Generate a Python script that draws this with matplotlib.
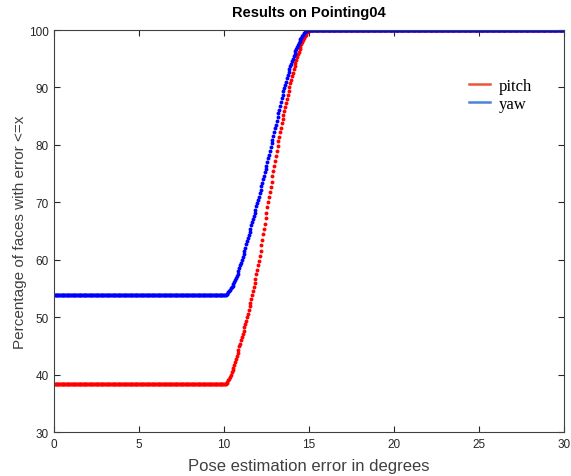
import numpy as np
import matplotlib
matplotlib.use("Agg")
import matplotlib.pyplot as plt
from matplotlib.lines import Line2D

# ---- data ----
step = 0.05
x_max = 30.0
rise_start = 10.0
pitch_plateau = 38.4
yaw_plateau = 53.9
top_value = 100.0

# values from x = 10.00 to 15.00, every 0.05 degree
pitch_rise = [
    38.4, 38.4, 38.4, 38.5, 38.7, 39.0, 39.3, 39.6, 40.0, 40.4,
    40.8, 41.2, 41.7, 42.2, 42.7, 43.2, 43.8, 44.3, 44.9, 45.4,
    46.0, 46.5, 47.1, 47.6, 48.2, 48.8, 49.4, 50.0, 50.6, 51.2,
    51.9, 52.5, 53.2, 53.9, 54.6, 55.3, 56.0, 56.7, 57.5, 58.2,
    59.0, 59.8, 60.7, 61.6, 62.5, 63.4, 64.4, 65.3, 66.3, 67.2,
    68.2, 69.1, 70.0, 70.9, 71.8, 72.7, 73.6, 74.5, 75.4, 76.3,
    77.2, 78.1, 79.0, 79.8, 80.6, 81.4, 82.2, 83.0, 83.8, 84.5,
    85.2, 85.9, 86.6, 87.3, 88.0, 88.7, 89.4, 90.0, 90.7, 91.3,
    92.0, 92.6, 93.2, 93.7, 94.3, 94.8, 95.3, 95.8, 96.2, 96.7,
    97.1, 97.5, 97.9, 98.3, 98.6, 98.9, 99.2, 99.4, 99.6, 99.8,
    99.9,
]
yaw_rise = [
    53.9, 53.9, 53.9, 54.0, 54.1, 54.3, 54.5, 54.7, 55.0, 55.2,
    55.5, 55.8, 56.1, 56.4, 56.8, 57.2, 57.6, 58.0, 58.5, 59.0,
    59.5, 60.0, 60.5, 61.0, 61.6, 62.1, 62.7, 63.2, 63.8, 64.3,
    64.9, 65.4, 66.0, 66.5, 67.1, 67.6, 68.2, 68.7, 69.3, 69.8,
    70.4, 71.0, 71.6, 72.2, 72.8, 73.4, 74.0, 74.6, 75.2, 75.8,
    76.4, 77.0, 77.7, 78.3, 79.0, 79.6, 80.3, 80.9, 81.6, 82.2,
    82.9, 83.5, 84.2, 84.8, 85.5, 86.1, 86.8, 87.4, 88.1, 88.7,
    89.3, 89.9, 90.5, 91.0, 91.6, 92.1, 92.7, 93.2, 93.7, 94.1,
    94.6, 95.0, 95.5, 95.9, 96.3, 96.7, 97.1, 97.4, 97.8, 98.1,
    98.4, 98.6, 98.9, 99.1, 99.4, 99.6, 99.8, 99.9, 100.0, 100.0,
    100.0,
]
series_names = ["pitch", "yaw"]
x_ticks = [0, 5, 10, 15, 20, 25, 30]
y_ticks = [30, 40, 50, 60, 70, 80, 90, 100]

# ---- build full series ----
x = np.round(np.arange(0, x_max + step / 2, step), 2)
n_before = int(round(rise_start / step))
n_after = len(x) - n_before - len(pitch_rise)
pitch = np.array([pitch_plateau] * n_before + pitch_rise + [top_value] * n_after)
yaw = np.array([yaw_plateau] * n_before + yaw_rise + [top_value] * n_after)

plt.rcParams['font.family'] = ['Liberation Sans', 'DejaVu Sans']

fig = plt.figure(figsize=(5.71, 4.77), dpi=100)
ax = fig.add_axes([0.0946, 0.0922, 0.8931, 0.8428])

ax.plot(x, pitch, linestyle='none', marker='o', ms=2.8, mec='none', color='#ff0000')
ax.plot(x, yaw, linestyle='none', marker='o', ms=2.8, mec='none', color='#0000ff')

ax.set_xlim(0, 30)
ax.set_ylim(30, 100)
ax.set_xticks(x_ticks)
ax.set_yticks(y_ticks)
ax.tick_params(direction='in', length=4, width=0.8, labelsize=8.5,
               top=True, right=True, colors='#262626', pad=4)
for s in ax.spines.values():
    s.set_color('#404040')
    s.set_linewidth(0.8)

ax.set_title("Results on Pointing04", fontsize=10.5, fontweight='bold', pad=10)
ax.set_xlabel("Pose estimation error in degrees", fontsize=12, color='#404040', labelpad=6)
ax.set_ylabel("Percentage of faces with error <=x", fontsize=11, color='#404040', labelpad=1)

handles = [Line2D([0], [0], color='#e8553a', lw=1.8),
           Line2D([0], [0], color='#4a82dc', lw=1.8)]
ax.legend(handles, series_names, loc='upper right', bbox_to_anchor=(0.96, 0.91),
          frameon=False, prop={'family': 'Liberation Serif', 'size': 12},
          handlelength=1.3, handletextpad=0.5, labelspacing=0.1, borderpad=0.2)

fig.savefig("out.png", dpi=100)
